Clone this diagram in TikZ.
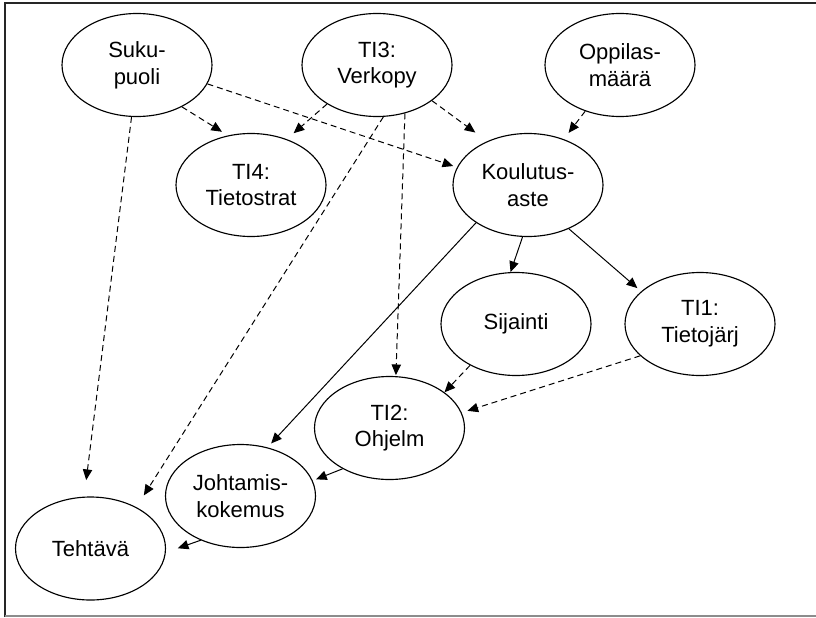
\documentclass[tikz,border=0pt]{standalone}
\usepackage{fontspec}
\setmainfont{Liberation Sans}
\usetikzlibrary{arrows.meta,shapes.geometric}
\begin{document}
\begin{tikzpicture}[x=0.75pt,y=-0.75pt,
  var/.style={ellipse, draw, line width=0.85pt, minimum width=112.5pt,
    minimum height=77.25pt, inner sep=0pt, align=center,
    font=\fontsize{16.5}{20}\selectfont},
  link/.style={line width=0.75pt, -{Triangle[length=8pt,width=7pt]}},
  weak/.style={link, dash pattern=on 4.5pt off 3pt}]
\useasboundingbox (0,0) rectangle (816,617);

% frame
\draw[line width=1.5pt, black!85] (820,3) -- (5,3) -- (5,617);
\draw[line width=1pt, black!45] (5,616) -- (820,616);

% variables
\node[var] (S)  at (137,65)    {Suku-\\puoli};
\node[var] (T3) at (377,65)    {TI3:\\Verkopy};
\node[var] (O)  at (620,65)    {Oppilas-\\määrä};
\node[var] (T4) at (251,185)   {TI4:\\Tietostrat};
\node[var] (K)  at (528,185)   {Koulutus-\\aste};
\node[var] (Si) at (516,324)   {Sijainti};
\node[var] (T1) at (700,324)   {TI1:\\Tietojärj};
\node[var] (T2) at (389.5,428) {TI2:\\Ohjelm};
\node[var] (J)  at (240.5,496) {Johtamis-\\kokemus};
\node[var] (Te) at (90.5,548.5) {Tehtävä};

% weak (dashed) dependencies
\draw[weak, shorten >=5.2pt]  (S.-43)    -- (T4.115);
\draw[weak, shorten >=3pt]    (S.-15.3)  -- (K.166.8);
\draw[weak, shorten >=12.5pt] (S.-96.6)  -- (Te.97.1);
\draw[weak, shorten >=6.75pt] (T3.-142.8) -- (T4.52.4);
\draw[weak, shorten >=11pt]   (T3.-33.9) -- (K.133.5);
\draw[weak, shorten >=0.75pt] (T3.-60)   -- (T2.83.4);
\draw[weak, shorten >=10.4pt] (T3.-83.4) -- (Te.42.8);
\draw[weak, shorten >=5.9pt]  (O.-127.2) -- (K.52.5);
\draw[weak]                   (Si.-138.9) -- (T2.33.9);
\draw[weak, shorten >=4.5pt]  (T1.-152)  -- (T2.12.9);

% strong (solid) dependencies
\draw[link]                   (K.-96.6)  -- (Si.96.6);
\draw[link, shorten >=3.75pt] (K.-47.7)  -- (T1.151.8);
\draw[link, shorten >=4pt]    (K.-144.2) -- (J.61.8);
\draw[link, shorten >=2.7pt]  (T2.-139.3) -- (J.12.5);
\draw[link, shorten >=9.5pt]  (J.-132.6) -- (Te.-3);
\end{tikzpicture}
\end{document}
